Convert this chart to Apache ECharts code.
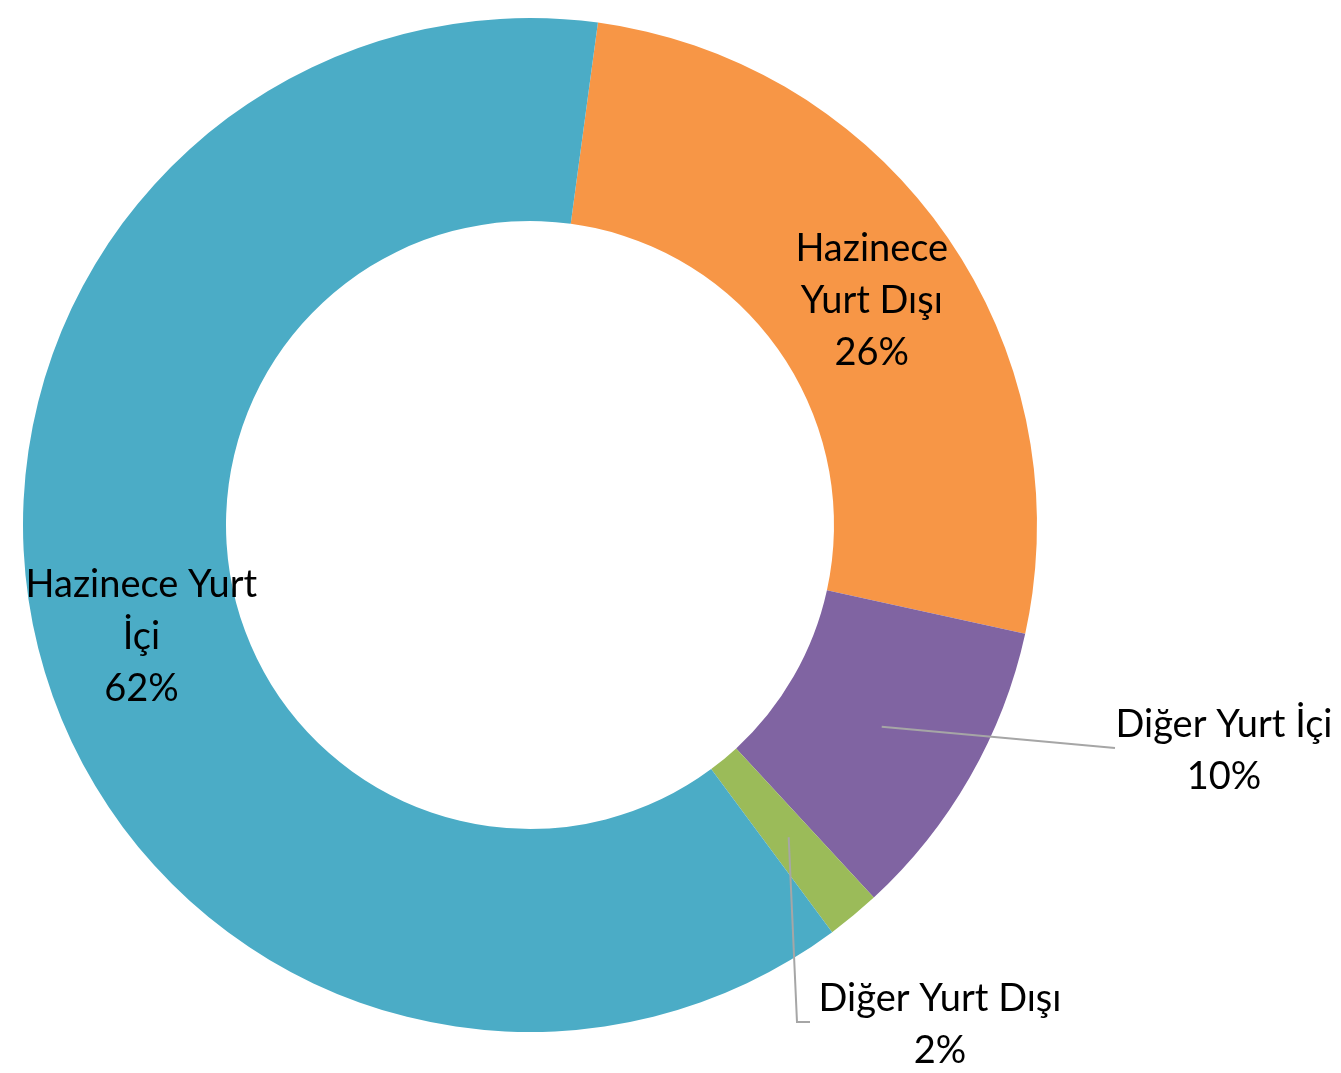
<!DOCTYPE html>
<html>
<head>
<meta charset="utf-8">
<script src="https://cdn.jsdelivr.net/npm/echarts@6/dist/echarts.min.js"></script>
<style>
  html, body { margin: 0; padding: 0; background: #ffffff; }
  #chart { width: 1341px; height: 1073px; }
</style>
</head>
<body>
<div id="chart"></div>
<script>
// Data (clockwise from the orange slice)
var categories = ['Hazinece Yurt Dışı', 'Diğer Yurt İçi', 'Diğer Yurt Dışı', 'Hazinece Yurt İçi'];
var labelNames = ['Hazinece\nYurt Dışı', 'Diğer Yurt İçi', 'Diğer Yurt Dışı', 'Hazinece Yurt\nİçi'];
var values = [26.3, 9.7, 1.7, 62.3];
var colors = ['#F79646', '#8064A2', '#9BBB59', '#4BACC6'];
var insideLabels = [true, false, false, true];

var FONT = 'Lato';
var FS = 38;

var chart = echarts.init(document.getElementById('chart'), null, { renderer: 'canvas' });

var mainData = categories.map(function (c, i) {
  return {
    name: c,
    value: values[i],
    itemStyle: { color: colors[i] },
    label: { show: insideLabels[i] }
  };
});
var guideData = categories.map(function (c, i) {
  return {
    name: c,
    value: values[i],
    label: { show: !insideLabels[i] },
    labelLine: { show: !insideLabels[i] }
  };
});

function fmt(p) {
  return labelNames[p.dataIndex] + '\n' + p.percent + '%';
}

// label placement for the two outside labels (label-centre, line-end)
var outsidePlace = {
  1: { x: 1224, y: 751, end: [[1115, 748]] },
  2: { x: 940, y: 1025, end: [[797, 1022], [810, 1022]] }
};

chart.setOption({
  backgroundColor: '#ffffff',
  animation: false,
  series: [
    {
      type: 'pie',
      center: [530, 525],
      radius: [304, 507],
      startAngle: 82.3,
      clockwise: true,
      percentPrecision: 0,
      silent: true,
      avoidLabelOverlap: false,
      itemStyle: { borderWidth: 0 },
      label: {
        position: 'inside',
        formatter: fmt,
        color: '#000000',
        fontFamily: FONT,
        fontSize: FS,
        lineHeight: 52,
        align: 'center',
        offset: [7, 10]
      },
      labelLine: { show: false },
      data: mainData
    },
    {
      type: 'pie',
      center: [530, 525],
      radius: [0, 405.5],
      startAngle: 82.3,
      clockwise: true,
      percentPrecision: 0,
      silent: true,
      z: 3,
      avoidLabelOverlap: false,
      itemStyle: { color: 'rgba(0,0,0,0)', borderWidth: 0 },
      label: {
        position: 'outside',
        formatter: fmt,
        color: '#000000',
        fontFamily: FONT,
        fontSize: FS,
        lineHeight: 52,
        align: 'center'
      },
      labelLine: {
        length: 20,
        length2: 20,
        lineStyle: { color: '#A6A6A6', width: 2 }
      },
      labelLayout: function (params) {
        var pl = outsidePlace[params.dataIndex];
        if (!pl) return {};
        var start = params.labelLinePoints ? params.labelLinePoints[0] : null;
        var out = { x: pl.x, y: pl.y, align: 'center', verticalAlign: 'middle' };
        if (start) out.labelLinePoints = [start].concat(pl.end);
        return out;
      },
      data: guideData
    }
  ]
});
</script>
</body>
</html>
